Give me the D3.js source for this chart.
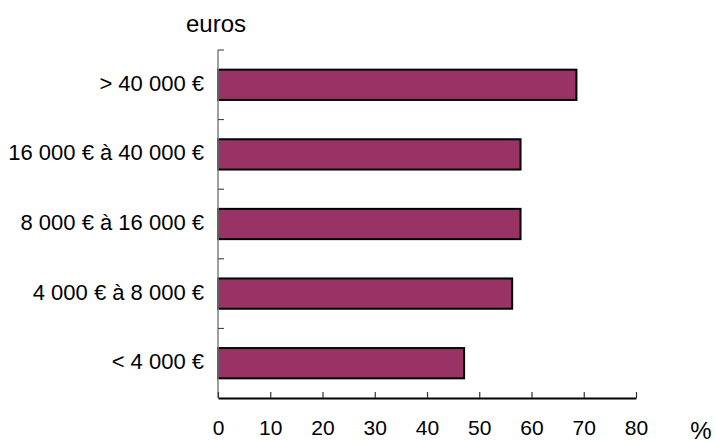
<!DOCTYPE html>
<html>
<head>
<meta charset="utf-8">
<script src="https://cdn.jsdelivr.net/npm/d3@7"></script>
<style>
    body { margin: 0; background: #fff; }
    svg text { font-family: "Liberation Sans", Arial, sans-serif; fill: #000; }
</style>
</head>
<body>
<script>
(function(){
//chart data, bottom to top as in the picture
var categories = ["< 4 000 €", "4 000 € à 8 000 €", "8 000 € à 16 000 €", "16 000 € à 40 000 €", "> 40 000 €"];
var values = [47.1, 56.3, 57.9, 57.9, 68.6];
var xTicks = [0, 10, 20, 30, 40, 50, 60, 70, 80];

window.onload = setChart();

function setChart(){
    //frame dimensions
    var width = 715,
        height = 443,
        left = 218,
        right = 636,
        top = 50,
        bottom = 398;

    var svg = d3.select("body")
        .append("svg")
        .attr("width", width)
        .attr("height", height);

    //scales
    var xScale = d3.scaleLinear()
        .domain([0, 80])
        .range([left, right]);

    //top category first so it sits at the top
    var yScale = d3.scaleBand()
        .domain(categories.slice().reverse())
        .range([top, bottom])
        .paddingInner(0.565)
        .paddingOuter(0.2825);

    var step = yScale.step();

    //bars
    var data = categories.map(function(c, i){ return {cat: c, val: values[i]}; });
    svg.selectAll(".bar")
        .data(data)
        .enter()
        .append("rect")
        .attr("class", "bar")
        .attr("x", xScale(0))
        .attr("y", function(d){ return yScale(d.cat); })
        .attr("width", function(d){ return xScale(d.val) - xScale(0); })
        .attr("height", yScale.bandwidth())
        .style("fill", "#993366")
        .style("stroke", "#000")
        .style("stroke-width", 2);

    //category labels
    svg.selectAll(".catLabel")
        .data(categories)
        .enter()
        .append("text")
        .attr("class", "catLabel")
        .attr("x", left - 14)
        .attr("y", function(d){ return yScale(d) + yScale.bandwidth() / 2; })
        .attr("dy", "0.27em")
        .attr("text-anchor", "end")
        .style("font-size", "22px")
        .text(function(d){ return d; });

    //vertical axis line
    svg.append("line")
        .attr("x1", left).attr("x2", left)
        .attr("y1", top).attr("y2", bottom)
        .style("stroke", "#808080")
        .style("stroke-width", 1.5);

    //vertical axis ticks between categories
    var yTickPos = d3.range(categories.length).map(function(i){ return top + i * step; });
    svg.selectAll(".yTick")
        .data(yTickPos)
        .enter()
        .append("line")
        .attr("class", "yTick")
        .attr("x1", left).attr("x2", left + 6)
        .attr("y1", function(d){ return d; })
        .attr("y2", function(d){ return d; })
        .style("stroke", "#333")
        .style("stroke-width", 1);

    //horizontal axis, ticks pointing up
    var xAxis = d3.axisBottom(xScale)
        .tickValues(xTicks)
        .tickSizeInner(-6)
        .tickSizeOuter(0)
        .tickPadding(22);

    var axis = svg.append("g")
        .attr("class", "axis")
        .attr("transform", "translate(0," + bottom + ")")
        .call(xAxis);

    axis.select(".domain").style("stroke", "#000").style("stroke-width", 2);
    axis.selectAll(".tick line").style("stroke", "#333").style("stroke-width", 1.2);
    axis.selectAll(".tick text")
        .style("font-size", "21px")
        .style("font-family", "'Liberation Sans', Arial, sans-serif")
        .attr("dy", "0.71em");

    //unit labels
    svg.append("text")
        .attr("x", 186)
        .attr("y", 32)
        .style("font-size", "24px")
        .text("euros");

    svg.append("text")
        .attr("x", 701)
        .attr("y", 439)
        .attr("text-anchor", "middle")
        .style("font-size", "24px")
        .text("%");
};
})();
</script>
</body>
</html>
